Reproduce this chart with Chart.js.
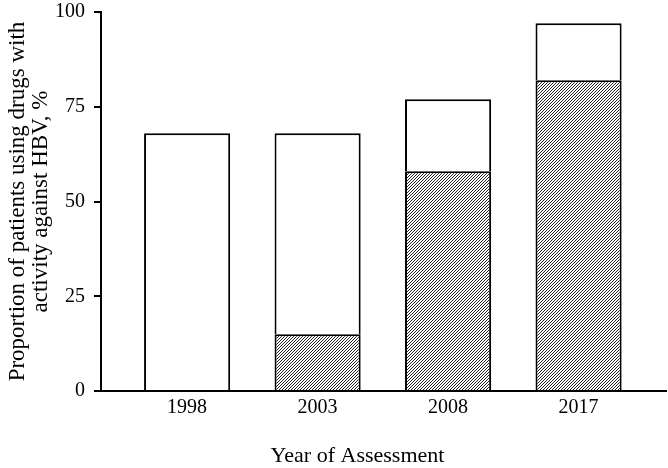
<!DOCTYPE html>
<html lang="en">
	<head>
		<meta charset="UTF-8">
		<script src="https://cdn.jsdelivr.net/npm/chart.js"></script>
		<style>
			* { margin: 0; padding: 0; }
			body { background: #fff; }
			#wrap { width: 668px; height: 468px; }
		</style>
	</head>
	<body>
		<div id="wrap"><canvas id="myChart"></canvas></div>
		<script>
			const years = ['1998', '2003', '2008', '2017'];
			const hatched = [0, 15, 58, 82];      // lower, hatched part
			const totals = [68, 68, 77, 97];      // full height of each bar
			const yTicks = [0, 25, 50, 75, 100];

			const FONT = "'Liberation Serif', 'DejaVu Serif', serif";

			// diagonal hatch pattern, ~3px pitch
			function makeHatch() {
				const s = 3;
				const c = document.createElement('canvas');
				c.width = s; c.height = s;
				const g = c.getContext('2d');
				g.fillStyle = '#fff';
				g.fillRect(0, 0, s, s);
				g.strokeStyle = '#222';
				g.lineWidth = 1;
				g.beginPath();
				g.moveTo(-1, s + 1); g.lineTo(s + 1, -1);
				g.moveTo(-1, 1); g.lineTo(1, -1);
				g.moveTo(s - 1, s + 1); g.lineTo(s + 1, s - 1);
				g.stroke();
				return g.createPattern(c, 'repeat');
			}
			const hatch = makeHatch();

			const xs = years.map((_, i) => i + 1);

			// x title sits a bit left of the plot centre in the original
			const xTitle = {
				id: 'xTitle',
				afterDraw(chart) {
					const ctx = chart.ctx;
					const a = chart.chartArea;
					ctx.save();
					ctx.fillStyle = '#000';
					ctx.font = '22px ' + FONT;
					ctx.textAlign = 'center';
					ctx.textBaseline = 'middle';
					ctx.fillText('Year of Assessment', (a.left + a.right) / 2 - 26, chart.height - 12);
					ctx.restore();
				}
			};

			const config = {
				type: 'bar',
				data: {
					datasets: [{
							data: xs.map((x, i) => ({ x: x, y: hatched[i] })),
							backgroundColor: hatch,
							borderColor: '#000',
							borderWidth: 2,
							borderSkipped: 'start',
							barPercentage: 1,
							categoryPercentage: 0.66
						},
						{
							data: xs.map((x, i) => ({ x: x, y: totals[i] - hatched[i] })),
							backgroundColor: '#fff',
							borderColor: '#000',
							borderWidth: 2,
							borderSkipped: 'start',
							barPercentage: 1,
							categoryPercentage: 0.66
						}
					]
				},
				plugins: [xTitle],
				options: {
					responsive: true,
					maintainAspectRatio: false,
					animation: false,
					layout: { padding: { top: 0, right: 2, left: 0, bottom: 43 } },
					plugins: {
						legend: false,
						tooltip: { enabled: false }
					},
					scales: {
						x: {
							type: 'linear',
							stacked: true,
							offset: false,
							min: 0.34,
							max: 4.67,
							afterBuildTicks: (axis) => { axis.ticks = xs.map(v => ({ value: v })); },
							grid: { display: false, drawTicks: false, offset: false },
							border: { color: '#000', width: 2 },
							ticks: {
								color: '#000',
								padding: 5,
								font: { family: FONT, size: 20 },
								callback: (v) => years[v - 1]
							}
						},
						y: {
							stacked: true,
							min: 0,
							max: 100,
							afterBuildTicks: (axis) => { axis.ticks = yTicks.map(v => ({ value: v })); },
							grid: { drawOnChartArea: false, drawTicks: true, tickLength: 7, color: '#000', lineWidth: 2 },
							border: { color: '#000', width: 2 },
							ticks: {
								color: '#000',
								padding: 9,
								font: { family: FONT, size: 20, lineHeight: 0.3 }
							},
							title: {
								display: true,
								text: ['Proportion of patients using drugs with', 'activity against HBV, %'],
								color: '#000',
								padding: { top: 6, bottom: -6 },
								font: { family: FONT, size: 23, lineHeight: 1.0 }
							}
						}
					}
				}
			};

			new Chart(document.getElementById('myChart'), config);
		</script>
	</body>
</html>
